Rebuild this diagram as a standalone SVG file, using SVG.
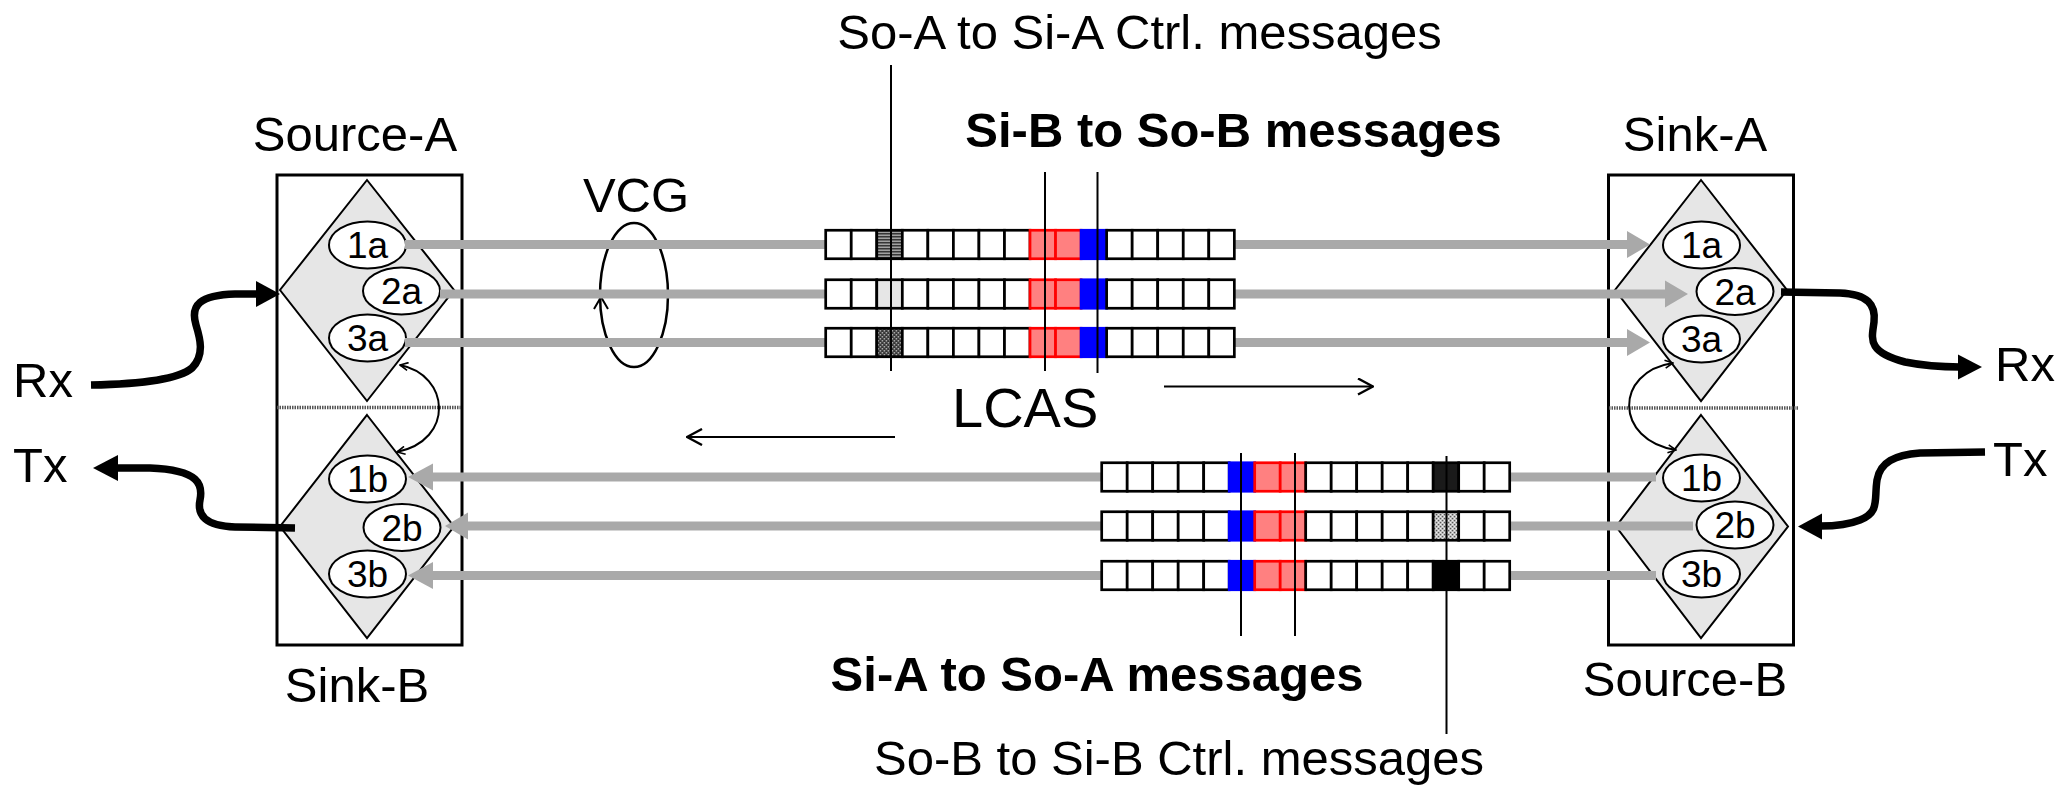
<svg xmlns="http://www.w3.org/2000/svg" width="2056" height="786" viewBox="0 0 2056 786">
<style>
text{font-family:"Liberation Sans",Arial,sans-serif;fill:#000}
.t{font-size:49px}
.b{font-size:49px;font-weight:bold}
.lbl{font-size:37px;text-anchor:middle}
.box{fill:none;stroke:#000;stroke-width:3}
.dia{fill:#e6e6e6;stroke:#000;stroke-width:2}
.ell{fill:#fff;stroke:#000;stroke-width:2}
.dot{stroke:#555;stroke-width:3.5;stroke-dasharray:1.5 1}
.cells rect{fill:#fff;stroke:#000;stroke-width:2.7}
.cells rect.r{fill:#ff8080;stroke:#f00}
.cells rect.u{fill:#00f;stroke:#00f}
.gl{stroke:#a9a9a9;stroke-width:9;fill:none}
.ga{fill:#a9a9a9}
.mk{stroke:#000;stroke-width:2;fill:none}
.thick{stroke:#000;stroke-width:7.5;fill:none}
.thin{stroke:#000;stroke-width:2;fill:none}
</style>
<defs>
<pattern id="hs" width="4" height="3" patternUnits="userSpaceOnUse"><rect width="4" height="3" fill="#aaa"/><rect width="4" height="1.2" fill="#111"/></pattern>
<pattern id="dg" width="4" height="4" patternUnits="userSpaceOnUse"><rect width="4" height="4" fill="#333"/><path d="M0 0h1.2v1.2H0zM2 2h1.2v1.2H2z" fill="#fff"/></pattern>
<pattern id="dl" width="4" height="4" patternUnits="userSpaceOnUse"><rect width="4" height="4" fill="#eee"/><path d="M0 0h1.5v1.5H0zM2 2h1.5v1.5H2z" fill="#222"/></pattern>
<marker id="sv" viewBox="0 0 10 10" refX="9" refY="5" markerWidth="10" markerHeight="10" markerUnits="userSpaceOnUse" orient="auto-start-reverse"><path d="M1 1L9 5L1 9" fill="none" stroke="#000" stroke-width="1.6"/></marker>
<marker id="lv" viewBox="0 0 18 18" refX="17" refY="9" markerWidth="18" markerHeight="18" markerUnits="userSpaceOnUse" orient="auto"><path d="M2 1L17 9L2 17" fill="none" stroke="#000" stroke-width="2.4"/></marker>
</defs>

<!-- Titles -->
<text class="t" x="1139.5" y="49" text-anchor="middle">So-A to Si-A Ctrl. messages</text>
<text class="b" x="1233.5" y="147" text-anchor="middle">Si-B to So-B messages</text>
<text class="b" x="1097" y="691" text-anchor="middle">Si-A to So-A messages</text>
<text class="t" x="1179" y="775" text-anchor="middle">So-B to Si-B Ctrl. messages</text>

<!-- Left node: Source-A / Sink-B -->
<g id="node-left">
<text class="t" x="355" y="151" text-anchor="middle">Source-A</text>
<text class="t" x="357" y="702" text-anchor="middle">Sink-B</text>
<rect class="box" x="277" y="175" width="185" height="470"/>
<line class="dot" x1="277" y1="407.5" x2="462" y2="407.5"/>
<polygon class="dia" points="367,180 454,290 367,401 280,290"/>
<polygon class="dia" points="367,415 454,526.5 367,638 280,526.5"/>
<ellipse class="ell" cx="367.5" cy="245" rx="38.5" ry="23.5"/><text class="lbl" x="367.5" y="258">1a</text>
<ellipse class="ell" cx="401.5" cy="291" rx="38.5" ry="23.5"/><text class="lbl" x="401.5" y="304">2a</text>
<ellipse class="ell" cx="367.5" cy="338" rx="38.5" ry="23.5"/><text class="lbl" x="367.5" y="351">3a</text>
<ellipse class="ell" cx="367.5" cy="479" rx="38.5" ry="23.5"/><text class="lbl" x="367.5" y="492">1b</text>
<ellipse class="ell" cx="402" cy="527.5" rx="38.5" ry="23.5"/><text class="lbl" x="402" y="540.5">2b</text>
<ellipse class="ell" cx="367.5" cy="574" rx="38.5" ry="23.5"/><text class="lbl" x="367.5" y="587">3b</text>
</g>

<!-- Right node: Sink-A / Source-B -->
<g id="node-right">
<text class="t" x="1695" y="151" text-anchor="middle">Sink-A</text>
<text class="t" x="1685" y="696" text-anchor="middle">Source-B</text>
<rect class="box" x="1608.5" y="175" width="185" height="470"/>
<line class="dot" x1="1609" y1="408" x2="1798" y2="408"/>
<polygon class="dia" points="1701,180 1787,290 1701,401 1615,290"/>
<polygon class="dia" points="1701,415 1788,526.5 1701,638 1616,526.5"/>
<ellipse class="ell" cx="1701.5" cy="245" rx="38.5" ry="23.5"/><text class="lbl" x="1701.5" y="258">1a</text>
<ellipse class="ell" cx="1735" cy="291.5" rx="38.5" ry="23.5"/><text class="lbl" x="1735" y="304.5">2a</text>
<ellipse class="ell" cx="1701.5" cy="339" rx="38.5" ry="23.5"/><text class="lbl" x="1701.5" y="352">3a</text>
<ellipse class="ell" cx="1701.5" cy="478" rx="38.5" ry="23.5"/><text class="lbl" x="1701.5" y="491">1b</text>
<ellipse class="ell" cx="1735" cy="525" rx="38.5" ry="23.5"/><text class="lbl" x="1735" y="538">2b</text>
<ellipse class="ell" cx="1701.5" cy="574" rx="38.5" ry="23.5"/><text class="lbl" x="1701.5" y="587">3b</text>
</g>

<!-- VCG -->
<g id="vcg">
<text class="t" x="636" y="212" text-anchor="middle">VCG</text>
<ellipse cx="634" cy="295" rx="34" ry="72" fill="none" stroke="#000" stroke-width="2.5"/>
<polyline points="594,309 601,297 608,309" fill="none" stroke="#000" stroke-width="2"/>
</g>

<!-- LCAS -->
<g id="lcas">
<text x="952" y="427" font-size="56">LCAS</text>
<line class="thin" x1="1164" y1="386.5" x2="1373" y2="386.5" stroke-width="2.5" marker-end="url(#lv)"/>
<line class="thin" x1="895" y1="437" x2="687" y2="437" stroke-width="2.5" marker-end="url(#lv)"/>
</g>

<!-- Connectors -->
<g id="connectors">
<line class="gl" x1="405" y1="244.5" x2="827" y2="244.5"/>
<line class="gl" x1="440" y1="294" x2="827" y2="294"/>
<line class="gl" x1="405" y1="342.5" x2="827" y2="342.5"/>
<line class="gl" x1="1233" y1="244.5" x2="1629" y2="244.5"/>
<polygon class="ga" points="1627,231 1650,244.5 1627,258"/>
<line class="gl" x1="1233" y1="294" x2="1667" y2="294"/>
<polygon class="ga" points="1665,280.5 1688,294 1665,307.5"/>
<line class="gl" x1="1233" y1="342.5" x2="1629" y2="342.5"/>
<polygon class="ga" points="1627,329 1650,342.5 1627,356"/>
<line class="gl" x1="1509" y1="477" x2="1656" y2="477"/>
<line class="gl" x1="1509" y1="526" x2="1693" y2="526"/>
<line class="gl" x1="1509" y1="575.5" x2="1656" y2="575.5"/>
<line class="gl" x1="1103" y1="477" x2="431" y2="477"/>
<polygon class="ga" points="433,463.5 408,477 433,490.5"/>
<line class="gl" x1="1103" y1="526" x2="466" y2="526"/>
<polygon class="ga" points="468,512.5 445,526 468,539.5"/>
<line class="gl" x1="1103" y1="575.5" x2="431" y2="575.5"/>
<polygon class="ga" points="433,562 408,575.5 433,589"/>

<path class="thin" d="M400 365 C450 375 455 440 397 452" marker-start="url(#sv)" marker-end="url(#sv)"/>
<path class="thin" d="M1673 363 C1614 372 1614 440 1676 450" marker-start="url(#sv)" marker-end="url(#sv)"/>

<path class="thick" d="M91 385 C150 384 180 378 192 368 C205 355 200 338 196 325 C190 305 200 295 235 294 L257 294"/>
<polygon points="256,281 280,294 256,307"/>
<path class="thick" d="M295 528 L235 527 C205 526 197 515 200 500 C203 485 200 470 150 468 L116 468"/>
<polygon points="118,455 93,468 118,481"/>
<path class="thick" d="M1781 292 L1840 293 C1868 294 1876 305 1874 322 C1872 338 1866 352 1905 362 C1925 366 1945 367 1960 367"/>
<polygon points="1958,354.5 1982,367 1958,379.5"/>
<path class="thick" d="M1985 452 L1920 453 C1895 455 1880 462 1877 480 C1874 500 1880 512 1860 520 C1848 525 1835 526 1820 526"/>
<polygon points="1822,513.5 1798,526.5 1822,539.5"/>
</g>

<!-- Frames upper (A direction) -->
<g id="frames-a" class="cells">
<g transform="translate(825.7,230.25)">
<rect x="0" width="25.54" height="28.5"/><rect x="25.54" width="25.54" height="28.5"/><rect x="51.08" width="25.54" height="28.5" style="fill:url(#hs)"/><rect x="76.62" width="25.54" height="28.5"/><rect x="102.16" width="25.54" height="28.5"/><rect x="127.7" width="25.54" height="28.5"/><rect x="153.24" width="25.54" height="28.5"/><rect x="178.78" width="25.54" height="28.5"/><rect class="r" x="204.32" width="25.54" height="28.5"/><rect class="r" x="229.86" width="25.54" height="28.5"/><rect class="u" x="255.4" width="25.54" height="28.5"/><rect x="280.94" width="25.54" height="28.5"/><rect x="306.48" width="25.54" height="28.5"/><rect x="332.02" width="25.54" height="28.5"/><rect x="357.56" width="25.54" height="28.5"/><rect x="383.1" width="25.54" height="28.5"/>
</g>
<g transform="translate(825.7,279.75)">
<rect x="0" width="25.54" height="28.5"/><rect x="25.54" width="25.54" height="28.5"/><rect x="51.08" width="25.54" height="28.5" style="fill:#e6e6e6"/><rect x="76.62" width="25.54" height="28.5"/><rect x="102.16" width="25.54" height="28.5"/><rect x="127.7" width="25.54" height="28.5"/><rect x="153.24" width="25.54" height="28.5"/><rect x="178.78" width="25.54" height="28.5"/><rect class="r" x="204.32" width="25.54" height="28.5"/><rect class="r" x="229.86" width="25.54" height="28.5"/><rect class="u" x="255.4" width="25.54" height="28.5"/><rect x="280.94" width="25.54" height="28.5"/><rect x="306.48" width="25.54" height="28.5"/><rect x="332.02" width="25.54" height="28.5"/><rect x="357.56" width="25.54" height="28.5"/><rect x="383.1" width="25.54" height="28.5"/>
</g>
<g transform="translate(825.7,328.25)">
<rect x="0" width="25.54" height="28.5"/><rect x="25.54" width="25.54" height="28.5"/><rect x="51.08" width="25.54" height="28.5" style="fill:url(#dg)"/><rect x="76.62" width="25.54" height="28.5"/><rect x="102.16" width="25.54" height="28.5"/><rect x="127.7" width="25.54" height="28.5"/><rect x="153.24" width="25.54" height="28.5"/><rect x="178.78" width="25.54" height="28.5"/><rect class="r" x="204.32" width="25.54" height="28.5"/><rect class="r" x="229.86" width="25.54" height="28.5"/><rect class="u" x="255.4" width="25.54" height="28.5"/><rect x="280.94" width="25.54" height="28.5"/><rect x="306.48" width="25.54" height="28.5"/><rect x="332.02" width="25.54" height="28.5"/><rect x="357.56" width="25.54" height="28.5"/><rect x="383.1" width="25.54" height="28.5"/>
</g>
</g>

<!-- Frames lower (B direction) -->
<g id="frames-b" class="cells">
<g transform="translate(1101.7,462.75)">
<rect x="0" width="25.5" height="28.5"/><rect x="25.5" width="25.5" height="28.5"/><rect x="51" width="25.5" height="28.5"/><rect x="76.5" width="25.5" height="28.5"/><rect x="102" width="25.5" height="28.5"/><rect class="u" x="127.5" width="25.5" height="28.5"/><rect class="r" x="153" width="25.5" height="28.5"/><rect class="r" x="178.5" width="25.5" height="28.5"/><rect x="204" width="25.5" height="28.5"/><rect x="229.5" width="25.5" height="28.5"/><rect x="255" width="25.5" height="28.5"/><rect x="280.5" width="25.5" height="28.5"/><rect x="306" width="25.5" height="28.5"/><rect x="331.5" width="25.5" height="28.5" style="fill:#1a1a1a"/><rect x="357" width="25.5" height="28.5"/><rect x="382.5" width="25.5" height="28.5"/>
</g>
<g transform="translate(1101.7,511.75)">
<rect x="0" width="25.5" height="28.5"/><rect x="25.5" width="25.5" height="28.5"/><rect x="51" width="25.5" height="28.5"/><rect x="76.5" width="25.5" height="28.5"/><rect x="102" width="25.5" height="28.5"/><rect class="u" x="127.5" width="25.5" height="28.5"/><rect class="r" x="153" width="25.5" height="28.5"/><rect class="r" x="178.5" width="25.5" height="28.5"/><rect x="204" width="25.5" height="28.5"/><rect x="229.5" width="25.5" height="28.5"/><rect x="255" width="25.5" height="28.5"/><rect x="280.5" width="25.5" height="28.5"/><rect x="306" width="25.5" height="28.5"/><rect x="331.5" width="25.5" height="28.5" style="fill:url(#dl)"/><rect x="357" width="25.5" height="28.5"/><rect x="382.5" width="25.5" height="28.5"/>
</g>
<g transform="translate(1101.7,561.25)">
<rect x="0" width="25.5" height="28.5"/><rect x="25.5" width="25.5" height="28.5"/><rect x="51" width="25.5" height="28.5"/><rect x="76.5" width="25.5" height="28.5"/><rect x="102" width="25.5" height="28.5"/><rect class="u" x="127.5" width="25.5" height="28.5"/><rect class="r" x="153" width="25.5" height="28.5"/><rect class="r" x="178.5" width="25.5" height="28.5"/><rect x="204" width="25.5" height="28.5"/><rect x="229.5" width="25.5" height="28.5"/><rect x="255" width="25.5" height="28.5"/><rect x="280.5" width="25.5" height="28.5"/><rect x="306" width="25.5" height="28.5"/><rect x="331.5" width="25.5" height="28.5" style="fill:#000"/><rect x="357" width="25.5" height="28.5"/><rect x="382.5" width="25.5" height="28.5"/>
</g>
</g>

<!-- Marker lines -->
<g id="markers">
<line class="mk" x1="891" y1="65" x2="891" y2="371"/>
<line class="mk" x1="1045" y1="172" x2="1045" y2="371"/>
<line class="mk" x1="1097.5" y1="172" x2="1097.5" y2="373"/>
<line class="mk" x1="1241" y1="453" x2="1241" y2="636"/>
<line class="mk" x1="1295" y1="453" x2="1295" y2="636"/>
<line class="mk" x1="1446.5" y1="456" x2="1446.5" y2="734"/>
</g>

<!-- Rx/Tx labels -->
<text class="t" x="13" y="397">Rx</text>
<text class="t" x="13" y="482">Tx</text>
<text class="t" x="1995" y="381">Rx</text>
<text class="t" x="1993" y="476">Tx</text>
</svg>
